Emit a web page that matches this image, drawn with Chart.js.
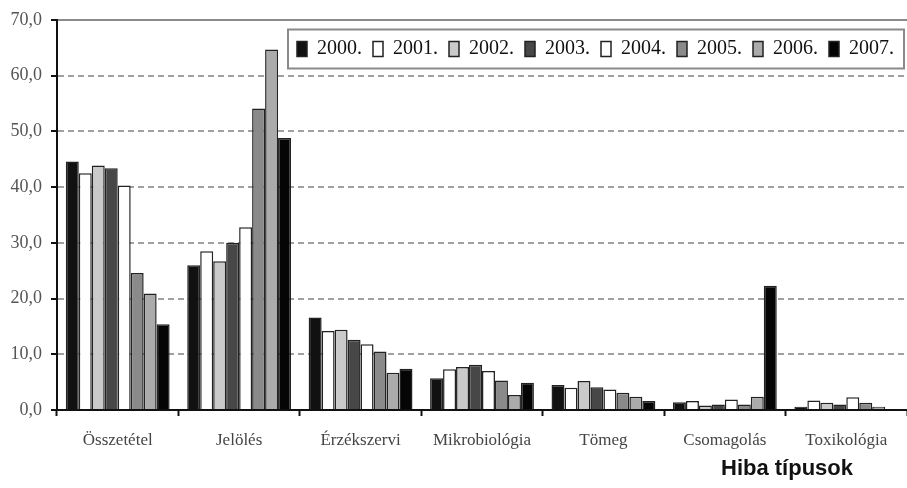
<!DOCTYPE html>
<html>
<head>
<meta charset="utf-8">
<script src="https://cdn.jsdelivr.net/npm/chart.js@4/dist/chart.umd.min.js"></script>
<style>
  html, body { margin: 0; padding: 0; background: #fff; overflow: hidden; }
  #wrap { position: relative; width: 907px; height: 488px; }
  #xtitle { position: absolute; left: 721px; top: 455px; font: bold 22px "Liberation Sans", Arial, sans-serif; color: #111; white-space: nowrap; }
</style>
</head>
<body>
<div id="wrap">
  <canvas id="c" width="907" height="488"></canvas>
  <div id="xtitle">Hiba típusok</div>
</div>
<script>
const categories = ["Összetétel", "Jelölés", "Érzékszervi", "Mikrobiológia", "Tömeg", "Csomagolás", "Toxikológia"];
const seriesNames = ["2000.", "2001.", "2002.", "2003.", "2004.", "2005.", "2006.", "2007."];
const y2000 = [44.6, 26.0, 16.6, 5.7, 4.5, 1.4, 0.6];
const y2001 = [42.5, 28.5, 14.2, 7.3, 4.0, 1.6, 1.7];
const y2002 = [43.9, 26.7, 14.4, 7.7, 5.2, 0.8, 1.3];
const y2003 = [43.4, 30.0, 12.6, 8.1, 4.1, 1.0, 1.0];
const y2004 = [40.3, 32.8, 11.8, 7.0, 3.7, 1.9, 2.3];
const y2005 = [24.6, 54.1, 10.5, 5.3, 3.1, 1.0, 1.3];
const y2006 = [20.9, 64.7, 6.7, 2.7, 2.4, 2.4, 0.6];
const y2007 = [15.4, 48.8, 7.4, 4.9, 1.6, 22.3, 0.1];
const yTicks = [0, 10, 20, 30, 40, 50, 60, 70];

const seriesValues = [y2000, y2001, y2002, y2003, y2004, y2005, y2006, y2007];
const fills = ["#111111", "#ffffff", "#cacaca", "#474747", "#ffffff", "#8a8a8a", "#ababab", "#050505"];

const datasets = seriesNames.map((n, i) => ({
  label: n,
  data: seriesValues[i],
  backgroundColor: fills[i],
  borderColor: "#222",
  borderWidth: 1.5,
  categoryPercentage: 0.855,
  barPercentage: 1.0
}));

// Legend overlays the plot area: it takes no layout height and is drawn with a small shift, framed by a box.
const LEG_DX = -2, LEG_DY = 8;
const legendOverlay = {
  id: 'legendOverlay',
  beforeLayout(chart) {
    const lg = chart.legend;
    if (!lg || lg._overlayPatched) return;
    lg._overlayPatched = true;
    const origFit = lg.fit.bind(lg);
    lg.fit = function () { origFit(); this._realH = this.height; this.height = 0; };
    const origDraw = lg.draw.bind(lg);
    lg.draw = function () {
      const ctx = this.ctx;
      const savedBottom = this.bottom, savedHeight = this.height;
      this.bottom = this.top + (this._realH || 0) + 30;
      this.height = this.bottom - this.top;
      ctx.save();
      ctx.translate(LEG_DX, LEG_DY);
      origDraw();
      const hb = this.legendHitBoxes;
      if (hb && hb.length) {
        const first = hb[0], last = hb[hb.length - 1];
        const x0 = first.left - 9, x1 = last.left + last.width + 10;
        const yc = first.top + first.height / 2;
        ctx.strokeStyle = "#8a8a8a";
        ctx.lineWidth = 2;
        ctx.strokeRect(x0, yc - 19.5, x1 - x0, 39);
      }
      ctx.restore();
      this.bottom = savedBottom;
      this.height = savedHeight;
    };
  }
};

new Chart(document.getElementById('c'), {
  type: 'bar',
  data: { labels: categories, datasets },
  options: {
    responsive: false,
    animation: false,
    devicePixelRatio: 1,
    layout: { padding: { top: 20, left: 0, right: 0, bottom: 0 } },
    plugins: {
      tooltip: { enabled: false },
      legend: {
        position: 'top',
        align: 'end',
        labels: {
          boxWidth: 10,
          boxHeight: 15,
          padding: 11,
          color: "#111",
          font: { family: "'Liberation Serif', 'Times New Roman', serif", size: 20 }
        }
      }
    },
    scales: {
      x: {
        afterFit(s) { s.height = 78; },
        grid: {
          drawOnChartArea: false,
          drawTicks: true,
          tickLength: 6,
          tickColor: "#111",
          tickWidth: 2,
          offset: true
        },
        border: { display: true, color: "#111", width: 2 },
        ticks: {
          color: "#444",
          padding: 14,
          font: { family: "'Liberation Serif', 'Times New Roman', serif", size: 17 }
        }
      },
      y: {
        min: 0,
        max: 70,
        afterFit(s) { s.width = 57; },
        afterBuildTicks(s) { s.ticks = yTicks.map(v => ({ value: v })); },
        grid: {
          color: ctx => ctx.tick && ctx.tick.value === 70 ? "#8a8a8a" : (ctx.tick && ctx.tick.value === 0 ? "#111" : "#a0a0a0"),
          lineWidth: 2,
          drawTicks: true,
          tickLength: 6,
          tickColor: "#111",
          tickWidth: 2
        },
        border: {
          display: true,
          color: "#111",
          width: 2,
          dash: ctx => (ctx.tick && (ctx.tick.value === 70 || ctx.tick.value === 0)) ? [] : [6, 4]
        },
        ticks: {
          color: "#555",
          padding: 9,
          font: { family: "'Liberation Serif', 'Times New Roman', serif", size: 18 },
          callback: v => Number(v).toFixed(1).replace('.', ',')
        }
      }
    }
  },
  plugins: [legendOverlay]
});
</script>
</body>
</html>
